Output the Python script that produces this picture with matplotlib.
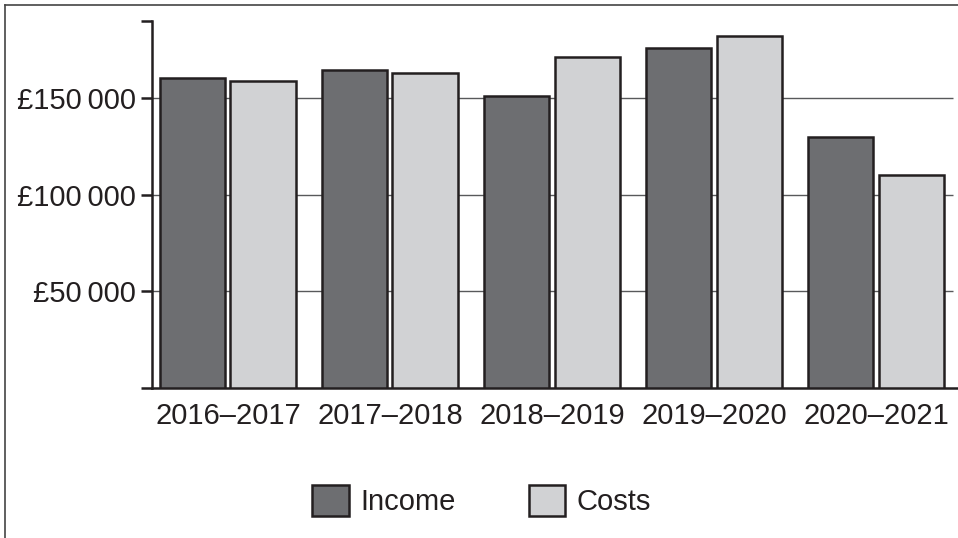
import matplotlib
matplotlib.use("Agg")
import matplotlib.pyplot as plt
import numpy as np
from matplotlib.patches import Patch
from matplotlib.lines import Line2D

categories = ["2016–2017", "2017–2018", "2018–2019", "2019–2020", "2020–2021"]
income = [160300, 164800, 151000, 176200, 130200]
costs = [158800, 163100, 171200, 182400, 110200]
series_names = ["Income", "Costs"]
ytick_values = [50000, 100000, 150000]
ytick_labels = ["£50\u2009000", "£100\u2009000", "£150\u2009000"]

INK = "#231f20"
DARK = "#6d6e71"
LIGHT = "#d1d2d4"
GRID = "#58595b"

plt.rcParams['font.family'] = ['Liberation Sans', 'DejaVu Sans']

fig = plt.figure(figsize=(9.58, 5.38), dpi=100)
ax = fig.add_axes([152/958, 1-388/538, (957-152)/958, (388-21)/538])

x = np.arange(len(categories))
w = 0.407
off = 0.219
ax.bar(x - off, income, width=w, color=DARK, edgecolor=INK, linewidth=1.8, zorder=3, label=series_names[0])
ax.bar(x + off, costs, width=w, color=LIGHT, edgecolor=INK, linewidth=1.8, zorder=3, label=series_names[1])

ax.set_xlim(-0.469, 4.5)
ax.set_ylim(0, 190000)
ax.hlines(ytick_values, -0.469, 4.475, colors=GRID, linewidth=1.0, zorder=1)

ax.set_yticks([0] + ytick_values + [190000])
ax.set_yticklabels([""] + ytick_labels + [""])
ax.set_xticks(x)
ax.set_xticklabels(categories)
ax.tick_params(axis='y', length=8, width=1.8, color=INK, pad=3.5, labelsize=21, labelcolor=INK)
ax.tick_params(axis='x', length=0, pad=10, labelsize=21, labelcolor=INK)

for s in ["top", "right"]:
    ax.spines[s].set_visible(False)
for s in ["left", "bottom"]:
    ax.spines[s].set_color(INK)
    ax.spines[s].set_linewidth(1.8)

handles = [Patch(facecolor=DARK, edgecolor=INK, linewidth=1.8),
           Patch(facecolor=LIGHT, edgecolor=INK, linewidth=1.8)]
fig.legend(handles, series_names, loc='center', bbox_to_anchor=(0.503, 0.069), ncol=2,
           frameon=False, fontsize=21, handlelength=1.24, handleheight=1.24,
           handletextpad=0.41, columnspacing=2.5, borderpad=0, labelcolor=INK)

# figure frame (left and top)
fig.add_artist(Line2D([5/958, 5/958], [0, 1-5/538], transform=fig.transFigure, color="#444444", linewidth=1.2))
fig.add_artist(Line2D([5/958, 1], [1-5/538, 1-5/538], transform=fig.transFigure, color="#444444", linewidth=1.2))

fig.savefig("out.png", dpi=100)
